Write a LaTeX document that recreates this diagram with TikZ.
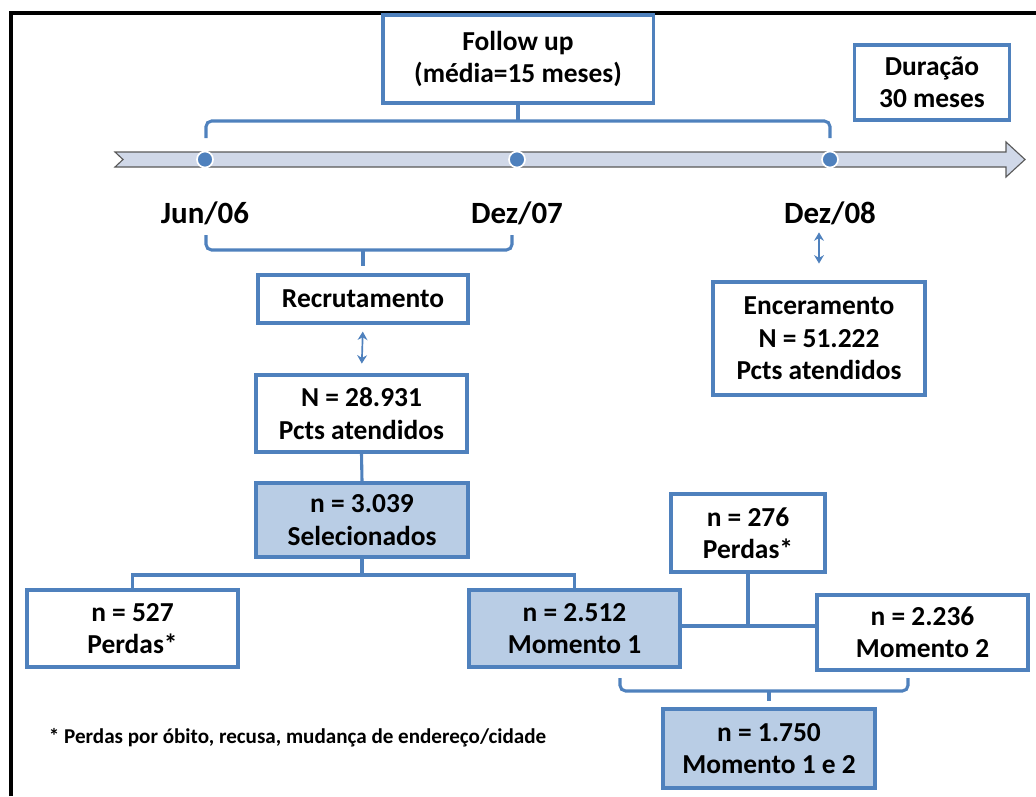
\documentclass[tikz,border=0pt]{standalone}
\usepackage{fontspec}
\setmainfont{Carlito}
\usetikzlibrary{arrows.meta}
\usetikzlibrary{calc}

\definecolor{boxblue}{RGB}{79,129,189}
\definecolor{cellfill}{RGB}{185,205,229}
\definecolor{barfill}{RGB}{208,216,232}
\definecolor{bargray}{RGB}{89,89,89}

\begin{document}
\begin{tikzpicture}[x=0.025cm,y=-0.025cm,
	box/.style={draw=boxblue, line width=2.2pt, fill=white, align=center, inner sep=0pt,
		font=\bfseries\fontsize{19.5}{23}\selectfont},
	shaded/.style={box, fill=cellfill},
	link/.style={draw=boxblue, line width=2.2pt},
	twoway/.style={draw=boxblue, line width=1.2pt, {Stealth[length=6pt,width=7pt]}-{Stealth[length=6pt,width=7pt]}},
	date/.style={font=\bfseries\fontsize{22}{26}\selectfont},
	dot/.style={circle, fill=boxblue, draw=white, line width=1.2pt, minimum size=0.4cm, inner sep=0pt}]

		\useasboundingbox (0,0) rectangle (1036,796);
		\draw [line width=2.9pt] (11,796) -- (11,13) -- (1036,13);

		% linha do tempo
		\draw [draw=bargray, fill=barfill, line width=0.8pt] (115,152) -- (1006,152) -- (1006,142) -- (1025,159.5) -- (1006,177) -- (1006,167) -- (115,167) -- (123,159.5) -- cycle;
		\node [dot] (t1) at (205,159.5) {};
		\node [dot] (t2) at (517,159.5) {};
		\node [dot] (t3) at (830,159.5) {};

		\node [date] (d1) at (205,213) {Jun/06};
		\node [date] (d2) at (517,213) {Dez/07};
		\node [date] (d3) at (830,213) {Dez/08};

		\node [box, minimum width=6.75cm, minimum height=2.2cm] (follow) at (518,59) {Follow up\\(média=15 meses)};
		\node [box, minimum width=3.875cm, minimum height=1.875cm] (dur) at (932,82.5) {Duração\\30 meses};

		\coordinate (fa) at (206,138);
		\coordinate (fb) at (206,121);
		\coordinate (fc) at (830,121);
		\coordinate (fd) at (830,138);
		\draw [link, rounded corners=4pt] (fa) -- (fb) -- (fc) -- (fd);
		\draw [link] (follow.south) -- (follow.south |- fb);

		\node [box, minimum width=5.25cm, minimum height=1.2cm] (recr) at (363,299) {Recrutamento};
		\node [box, minimum width=5.275cm, minimum height=1.925cm] (pcts) at (361.5,413.5) {N = 28.931\\Pcts atendidos};
		\node [shaded, minimum width=5.3cm, minimum height=1.85cm] (sel) at (362,520) {n = 3.039\\Selecionados};
		\node [box, minimum width=5.3cm, minimum height=2.825cm] (encer) at (819,338.5) {Enceramento\\N = 51.222\\Pcts atendidos};

		\coordinate (ra) at (206,235);
		\coordinate (rb) at (206,250);
		\coordinate (rc) at (512,250);
		\coordinate (rd) at (512,235);
		\draw [link, rounded corners=4pt] (ra) -- (rb) -- (rc) -- (rd);
		\draw [link] (recr.north |- rb) -- ($(recr.north)+(0,-7)$);

		\draw [twoway, shorten <=5pt, shorten >=7pt] (recr.south) -- (pcts.north);
		\draw [twoway, shorten <=2pt, shorten >=12pt] (d3.south -| encer.north) -- (encer.north);
		\draw [link] (pcts.south) -- (sel.north);

		\node [box, minimum width=5.275cm, minimum height=1.925cm] (perd1) at (132.5,628.5) {n = 527\\Perdas*};
		\node [shaded, minimum width=5.275cm, minimum height=1.925cm] (mom1) at (574.5,628.5) {n = 2.512\\Momento 1};
		\node [box, minimum width=3.85cm, minimum height=1.95cm] (perd2) at (748,533) {n = 276\\Perdas*};
		\node [box, minimum width=5.275cm, minimum height=1.875cm] (mom2) at (922.5,632.5) {n = 2.236\\Momento 2};
		\node [shaded, minimum width=5.3cm, minimum height=1.975cm] (mom12) at (769,748.5) {n = 1.750\\Momento 1 e 2};

		\coordinate (sa) at (362,575);
		\draw [link] (sel.south) -- (sa);
		\draw [link] (perd1.north) |- (sa) -| (mom1.north);

		\coordinate (ma) at (748,626);
		\draw [link] (perd2.south) -- (ma);
		\draw [link] (mom1.east |- ma) -- (mom2.west |- ma);

		\coordinate (ba) at (620,678);
		\coordinate (bb) at (620,691);
		\coordinate (bc) at (908,691);
		\coordinate (bd) at (908,678);
		\draw [link, rounded corners=4pt] (ba) -- (bb) -- (bc) -- (bd);
		\draw [link] (mom12.north |- bb) -- ($(mom12.north)+(0,-6)$);

		\node [anchor=west, font=\bfseries\fontsize{15}{18}\selectfont] (nota) at (44,738) {* Perdas por óbito, recusa, mudança de endereço/cidade};

\end{tikzpicture}
\end{document}
